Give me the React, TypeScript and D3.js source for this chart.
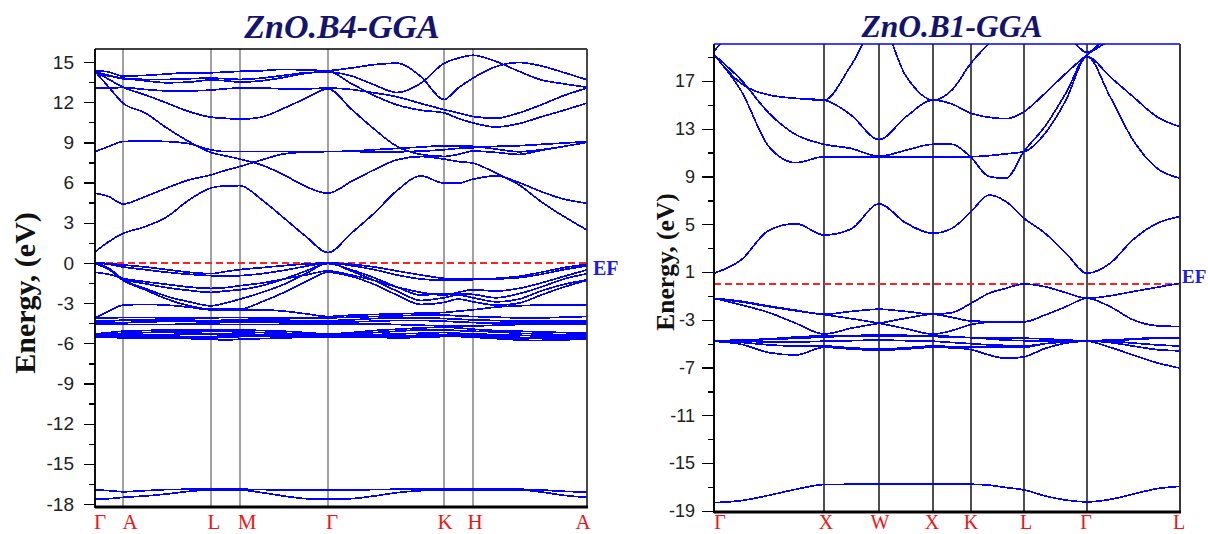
import React, { useEffect, useRef } from "react";
import * as d3 from "d3";

// ================= ZnO B4 (wurtzite) panel data =================
const b4Title = "ZnO.B4-GGA";
const b4KLabels = ["Γ", "A", "L", "M", "Γ", "K", "H", "A"];
const b4KDist = [0, 28, 116, 145, 233, 349, 378, 492];
const b4Grid = [0, 14, 28, 50, 72, 94, 116, 130, 145, 167, 189, 211, 233, 256, 279, 302, 326, 349, 363, 378, 401, 424, 446, 469, 492];
const b4Ticks = [15, 12, 9, 6, 3, 0, -3, -6, -9, -12, -15, -18];
const b4MinorTicks = [13.5, 10.5, 7.5, 4.5, 1.5, -1.5, -4.5, -7.5, -10.5, -13.5, -16.5];

// conduction bands
const b4c1 = [0.82, 1.6, 2.2, 2.7, 3.45, 4.7, 5.6, 5.75, 5.77, 4.7, 3.35, 1.97, 0.77, 2.2, 3.7, 5.4, 6.5, 5.95, 5.95, 6.25, 6.5, 6.0, 5.33, 4.76, 4.46];
const b4c2 = [5.2, 4.95, 4.4, 4.95, 5.6, 6.2, 6.57, 6.9, 7.2, 7.7, 8.14, 8.27, 8.31, 8.31, 8.3, 8.3, 8.35, 8.45, 8.55, 8.6, 8.7, 8.75, 8.85, 8.95, 9.06];
const b4c3 = [8.3, 8.7, 9.06, 9.1, 9.06, 8.9, 8.44, 8.31, 8.31, 8.31, 8.31, 8.31, 8.31, 8.35, 8.45, 8.55, 8.65, 8.75, 8.75, 8.7, 8.5, 8.3, 8.45, 8.7, 9.0];
const b4c4 = [14.3, 13.1, 11.93, 11.2, 10.06, 9.06, 8.24, 8.0, 7.75, 7.3, 6.57, 5.7, 5.2, 6.07, 6.95, 7.7, 7.94, 7.75, 7.57, 7.45, 6.7, 5.83, 4.58, 3.46, 2.46];
const b4c5 = [14.3, 13.7, 13.12, 12.55, 11.93, 11.3, 10.88, 10.8, 10.73, 10.9, 11.55, 12.3, 13.0, 11.5, 10.0, 8.7, 8.1, 7.95, 8.1, 8.35, 8.25, 8.1, 8.4, 8.7, 9.0];
const b4c6 = [13.05, 13.05, 13.1, 12.95, 12.85, 12.85, 12.9, 13.0, 13.05, 13.05, 13.0, 13.0, 13.05, 12.95, 12.7, 12.4, 11.9, 11.45, 11.2, 10.93, 10.8, 11.2, 11.8, 12.5, 13.05];
const b4c7 = [14.2, 13.95, 13.8, 13.6, 13.45, 13.5, 13.65, 13.6, 13.5, 13.6, 13.85, 14.15, 14.3, 13.4, 12.5, 11.8, 11.4, 11.2, 10.8, 10.45, 10.15, 10.4, 10.9, 11.4, 11.93];
const b4c8 = [14.36, 14.25, 13.95, 14.0, 14.1, 14.2, 14.2, 14.25, 14.3, 14.35, 14.45, 14.4, 14.36, 14.55, 14.8, 14.91, 13.9, 12.2, 13.05, 13.8, 14.66, 14.96, 14.71, 14.21, 13.67];
const b4c9 = [14.25, 14.0, 13.75, 13.7, 13.7, 13.75, 13.8, 13.75, 13.7, 13.8, 14.0, 14.2, 14.25, 13.97, 13.3, 12.72, 13.42, 14.9, 15.28, 15.5, 15.04, 14.3, 13.67, 13.37, 13.12];
// O 2p valence bands
const b4v1 = [0, -0.05, -0.15, -0.3, -0.5, -0.7, -0.8, -0.65, -0.5, -0.35, -0.2, -0.08, 0, -0.1, -0.3, -0.6, -0.9, -1.15, -1.2, -1.2, -1.15, -1.0, -0.7, -0.35, -0.1];
const b4v2 = [0, -0.1, -0.3, -0.5, -0.7, -0.85, -0.95, -1.0, -0.95, -0.8, -0.55, -0.25, 0, -0.2, -0.5, -0.9, -1.2, -1.3, -1.3, -1.25, -1.2, -1.1, -0.85, -0.5, -0.22];
const b4v3 = [-0.7, -0.85, -1.15, -1.4, -1.6, -1.8, -1.9, -1.85, -1.7, -1.5, -1.2, -0.9, -0.6, -0.9, -1.3, -1.8, -2.2, -2.4, -2.2, -2.0, -2.1, -1.9, -1.5, -1.0, -0.52];
const b4v4 = [0, -0.4, -1.2, -1.55, -1.85, -2.05, -2.2, -2.1, -2.0, -1.7, -1.2, -0.6, -0.05, -0.5, -1.1, -1.8, -2.4, -2.3, -2.3, -2.35, -2.6, -2.3, -1.8, -1.2, -0.8];
const b4v5 = [0, -0.45, -1.25, -1.9, -2.5, -2.9, -3.2, -3.0, -2.7, -2.2, -1.6, -0.8, 0, -0.6, -1.3, -2.1, -2.8, -2.6, -2.4, -2.6, -2.9, -2.7, -2.1, -1.6, -1.27];
const b4v6 = [-0.05, -0.5, -1.3, -2.0, -2.7, -3.2, -3.45, -3.45, -3.45, -2.9, -2.2, -1.4, -0.7, -1.0, -1.6, -2.4, -3.1, -2.95, -2.7, -2.9, -3.15, -3.0, -2.4, -1.8, -1.3];
const b4v7 = [-4.1, -3.6, -3.15, -3.1, -3.15, -3.3, -3.5, -3.5, -3.5, -3.5, -3.6, -3.8, -4.0, -3.9, -3.85, -3.8, -3.75, -3.7, -3.6, -3.5, -3.3, -3.2, -3.15, -3.15, -3.14];
// Zn 3d bands
const b4d1 = [-4.1, -4.1, -4.08, -4.08, -4.1, -4.12, -4.1, -4.08, -4.08, -4.1, -4.1, -4.1, -4.1, -4.05, -4.0, -3.95, -3.9, -3.9, -3.95, -4.0, -4.05, -4.1, -4.1, -4.05, -4.0];
const b4d2 = [-4.3, -4.3, -4.28, -4.25, -4.25, -4.28, -4.3, -4.28, -4.25, -4.25, -4.28, -4.3, -4.3, -4.25, -4.15, -4.1, -4.1, -4.15, -4.2, -4.25, -4.3, -4.35, -4.35, -4.3, -4.3];
const b4d3 = [-4.4, -4.42, -4.45, -4.4, -4.38, -4.38, -4.4, -4.4, -4.4, -4.4, -4.4, -4.42, -4.42, -4.4, -4.35, -4.3, -4.3, -4.35, -4.4, -4.45, -4.5, -4.5, -4.45, -4.4, -4.4];
const b4d4 = [-4.55, -4.55, -4.58, -4.6, -4.6, -4.55, -4.55, -4.6, -4.6, -4.6, -4.58, -4.55, -4.55, -4.55, -4.55, -4.6, -4.65, -4.7, -4.7, -4.7, -4.65, -4.6, -4.55, -4.55, -4.55];
const b4d5 = [-5.3, -5.2, -5.1, -5.05, -5.0, -5.0, -5.0, -5.0, -5.0, -5.05, -5.1, -5.2, -5.3, -5.2, -5.05, -4.95, -4.85, -4.8, -4.85, -4.95, -5.05, -5.1, -5.15, -5.2, -5.25];
const b4d6 = [-5.35, -5.3, -5.25, -5.2, -5.15, -5.15, -5.12, -5.12, -5.15, -5.2, -5.25, -5.3, -5.35, -5.3, -5.2, -5.1, -5.0, -5.0, -5.05, -5.1, -5.15, -5.25, -5.3, -5.35, -5.35];
const b4d7 = [-5.4, -5.4, -5.4, -5.38, -5.35, -5.3, -5.3, -5.3, -5.3, -5.35, -5.38, -5.4, -5.4, -5.4, -5.35, -5.3, -5.25, -5.2, -5.25, -5.3, -5.35, -5.4, -5.45, -5.45, -5.45];
const b4d8 = [-5.5, -5.5, -5.5, -5.45, -5.45, -5.5, -5.5, -5.45, -5.45, -5.5, -5.5, -5.5, -5.5, -5.5, -5.45, -5.45, -5.4, -5.4, -5.4, -5.45, -5.55, -5.6, -5.6, -5.55, -5.55];
const b4d9 = [-5.55, -5.55, -5.6, -5.6, -5.6, -5.65, -5.7, -5.75, -5.7, -5.65, -5.6, -5.55, -5.55, -5.55, -5.55, -5.6, -5.55, -5.5, -5.5, -5.55, -5.65, -5.75, -5.8, -5.75, -5.65];
const b4d10 = [-5.3, -5.35, -5.45, -5.55, -5.6, -5.6, -5.6, -5.55, -5.5, -5.45, -5.4, -5.35, -5.3, -5.35, -5.45, -5.5, -5.45, -5.35, -5.3, -5.35, -5.45, -5.55, -5.65, -5.7, -5.7];
// O 2s bands
const b4s1 = [-16.95, -17.0, -17.08, -17.0, -16.92, -16.9, -16.9, -16.9, -16.9, -16.92, -16.95, -16.95, -16.95, -16.95, -16.92, -16.9, -16.9, -16.9, -16.9, -16.9, -16.9, -16.9, -16.95, -17.05, -17.1];
const b4s2 = [-17.65, -17.6, -17.5, -17.4, -17.25, -17.05, -16.95, -16.95, -16.95, -17.15, -17.4, -17.6, -17.65, -17.6, -17.4, -17.15, -17.0, -16.95, -16.95, -16.95, -16.95, -16.95, -17.1, -17.35, -17.5];

const b4Bands = [
  b4c1, b4c2, b4c3, b4c4, b4c5, b4c6, b4c7, b4c8, b4c9,
  b4v1, b4v2, b4v3, b4v4, b4v5, b4v6, b4v7,
  b4d1, b4d2, b4d3, b4d4, b4d5, b4d6, b4d7, b4d8, b4d9, b4d10,
  b4s1, b4s2,
];

// ================= ZnO B1 (rocksalt) panel data =================
const b1Title = "ZnO.B1-GGA";
const b1KLabels = ["Γ", "X", "W", "X", "K", "L", "Γ", "L"];
const b1KDist = [0, 110, 165, 219, 257, 310, 373, 466];
const b1Grid = [0, 27, 55, 82, 110, 137, 165, 192, 219, 238, 257, 275, 292, 310, 331, 352, 373, 396, 419, 443, 466];
const b1Ticks = [17, 13, 9, 5, 1, -3, -7, -11, -15, -19];
const b1MinorTicks = [19, 15, 11, 7, 3, -1, -5, -9, -13, -17];

const b1c1 = [0.9, 2.0, 4.5, 5.05, 4.1, 4.6, 6.7, 5.1, 4.25, 4.66, 6.05, 7.45, 6.9, 5.5, 4.25, 2.57, 0.9, 1.73, 3.7, 5.08, 5.64];
const b1c2 = [19.2, 16.2, 11.5, 10.16, 10.66, 10.66, 10.66, 10.66, 10.66, 10.66, 10.66, 10.75, 10.9, 11.08, 12.6, 15.4, 19.05, 15.7, 12.06, 9.7, 8.85];
const b1c3 = [19.2, 17.1, 14.3, 12.5, 11.7, 11.35, 10.7, 11.2, 11.7, 11.7, 10.6, 9.0, 8.85, 11.1, 13.2, 16.0, 19.05, 17.36, 15.69, 14.0, 13.17];
const b1c4 = [19.2, 16.8, 15.83, 15.55, 15.4, 14.15, 12.1, 14.0, 15.4, 15.07, 14.3, 13.96, 13.85, 14.43, 15.97, 17.65, 19.18, 20.4, 21.5, 22.0, 22.5];
const b1c5 = [19.2, 16.8, 15.83, 15.55, 15.4, 18.3, 22.0, 17.4, 15.4, 16.25, 18.5, 20.15, 21.5, 22.0, 22.0, 21.0, 19.4, 21.0, 22.0, 22.5, 23.0];
const b1c6 = [19.5, 22.0, 24.0, 24.0, 24.0, 24.0, 24.0, 24.0, 24.0, 24.0, 24.0, 24.0, 24.0, 24.0, 24.0, 24.0, 24.0, 24.0, 24.0, 24.0, 24.0];
const b1v1 = [-1.2, -1.45, -1.85, -2.2, -2.54, -2.3, -2.12, -2.3, -2.54, -2.4, -1.62, -0.78, -0.36, 0.0, -0.23, -0.73, -1.2, -0.99, -0.64, -0.28, 0.06];
const b1v2 = [-1.2, -1.75, -2.4, -3.3, -4.19, -3.71, -3.29, -2.87, -2.54, -2.8, -3.1, -3.15, -3.17, -3.17, -2.6, -1.9, -1.2, -1.9, -3.0, -3.5, -3.57];
const b1v3 = [-1.2, -1.5, -1.9, -2.25, -2.56, -2.9, -3.29, -3.75, -4.2, -3.9, -3.4, -3.2, -3.17, -3.17, -2.6, -1.9, -1.2, -1.9, -3.0, -3.5, -3.57];
const b1d1 = [-4.75, -4.7, -4.6, -4.45, -4.35, -4.35, -4.35, -4.35, -4.35, -4.4, -4.5, -4.55, -4.55, -4.55, -4.6, -4.7, -4.75, -4.7, -4.6, -4.5, -4.5];
const b1d2 = [-4.75, -4.8, -4.85, -4.85, -4.8, -4.75, -4.7, -4.75, -4.8, -4.9, -5.0, -5.1, -5.15, -5.2, -5.0, -4.85, -4.75, -4.8, -4.95, -5.1, -5.2];
const b1d3 = [-4.78, -4.9, -5.1, -5.2, -5.2, -5.35, -5.45, -5.35, -5.2, -5.25, -5.3, -5.3, -5.3, -5.3, -5.0, -4.85, -4.78, -4.9, -5.2, -5.5, -5.6];
const b1d4 = [-4.8, -5.05, -5.75, -5.95, -5.3, -5.45, -5.55, -5.45, -5.3, -5.35, -5.5, -5.95, -6.23, -6.1, -5.4, -4.95, -4.8, -5.3, -5.95, -6.6, -7.05];
const b1d5 = [-4.75, -4.72, -4.65, -4.55, -4.45, -4.35, -4.25, -4.3, -4.4, -4.45, -4.5, -4.6, -4.7, -4.75, -4.75, -4.75, -4.75, -4.72, -4.65, -4.55, -4.5];
const b1s1 = [-18.32, -18.15, -17.7, -17.2, -16.8, -16.78, -16.78, -16.78, -16.78, -16.78, -16.78, -16.85, -17.05, -17.25, -17.75, -18.1, -18.25, -18.05, -17.6, -17.15, -16.95];

const b1Bands = [b1c1, b1c2, b1c3, b1c4, b1c5, b1c6, b1v1, b1v2, b1v3, b1d1, b1d2, b1d3, b1d4, b1d5, b1s1];

const fermiLevel = 0;

type Spec = {
  id: string;
  title: string;
  titleX: number;
  titleY: number;
  titleSize: number;
  labels: string[];
  kDist: number[];
  grid: number[];
  bands: number[][];
  ticks: number[];
  minor: number[];
  left: number;
  right: number;
  top: number;
  bottom: number;
  yDomain: [number, number];
  majorLen: number;
  minorLen: number;
  pad: number;
  tickFont: number;
  symColor: string;
  symWidth: number;
  topColor: string;
  yLabelX: number;
  yLabelY: number;
  yLabelSize: number;
  efSize: number;
  efDx: number;
  efDy: number;
  kFont: number;
  kDx: number[];
};

const leftSpec: Spec = {
  id: "b4",
  title: b4Title,
  titleX: 342,
  titleY: 38,
  titleSize: 34,
  labels: b4KLabels,
  kDist: b4KDist,
  grid: b4Grid,
  bands: b4Bands,
  ticks: b4Ticks,
  minor: b4MinorTicks,
  left: 95,
  right: 587,
  top: 49,
  bottom: 507,
  yDomain: [-18.22, 15.97],
  majorLen: 11,
  minorLen: 6,
  pad: 10,
  tickFont: 19,
  symColor: "#8a8a8a",
  symWidth: 1.6,
  topColor: "#000",
  yLabelX: 35,
  yLabelY: 293,
  yLabelSize: 30,
  efSize: 20,
  efDx: 6,
  efDy: 12,
  kFont: 21,
  kDx: [5, 7, 3, 7, 4, 1, 2, -4],
};

const rightSpec: Spec = {
  id: "b1",
  title: b1Title,
  titleX: 952,
  titleY: 37,
  titleSize: 31.5,
  labels: b1KLabels,
  kDist: b1KDist,
  grid: b1Grid,
  bands: b1Bands,
  ticks: b1Ticks,
  minor: b1MinorTicks,
  left: 714,
  right: 1180,
  top: 44,
  bottom: 512,
  yDomain: [-19.1, 20.1],
  majorLen: 12,
  minorLen: 6,
  pad: 7,
  tickFont: 18,
  symColor: "#222",
  symWidth: 1.6,
  topColor: "#0000ff",
  yLabelX: 674,
  yLabelY: 262,
  yLabelSize: 25.5,
  efSize: 19,
  efDx: 2,
  efDy: -1,
  kFont: 20,
  kDx: [6, 2, 1, -1, 0, 2, -1, -1],
};

function Panel({ spec }: { spec: Spec }) {
  const axisRef = useRef<SVGGElement>(null);
  const x = d3.scaleLinear().domain([0, spec.kDist[spec.kDist.length - 1]]).range([spec.left, spec.right]);
  const y = d3.scaleLinear().domain(spec.yDomain).range([spec.bottom, spec.top]);
  const line = d3
    .line<number>()
    .x((_, i) => x(spec.grid[i]))
    .y((d) => y(d))
    .curve(d3.curveMonotoneX);

  useEffect(() => {
    const g = d3.select(axisRef.current);
    g.selectAll("*").remove();
    const minorAxis = d3.axisLeft(y).tickValues(spec.minor).tickSize(spec.minorLen).tickFormat(() => "");
    const majorAxis = d3
      .axisLeft(y)
      .tickValues(spec.ticks)
      .tickSize(spec.majorLen)
      .tickPadding(spec.pad)
      .tickFormat((d) => String(d));
    g.append("g").call(minorAxis);
    g.append("g").call(majorAxis);
    g.selectAll(".domain").remove();
    g.selectAll("line").attr("stroke", "#000").attr("stroke-width", 1.3).attr("shape-rendering", "crispEdges");
    g.selectAll("text")
      .attr("font-family", "'Liberation Sans', Arial, sans-serif")
      .attr("font-size", spec.tickFont)
      .attr("fill", "#222");
  }, []);

  const yEF = y(fermiLevel);
  return (
    <g>
      <defs>
        <clipPath id={`clip-${spec.id}`}>
          <rect x={spec.left} y={spec.top} width={spec.right - spec.left} height={spec.bottom - spec.top} />
        </clipPath>
      </defs>
      <text
        x={spec.titleX}
        y={spec.titleY}
        textAnchor="middle"
        fontFamily="'Liberation Serif', 'Times New Roman', serif"
        fontWeight="bold"
        fontStyle="italic"
        fontSize={spec.titleSize}
        fill="#14146e"
      >
        {spec.title}
      </text>
      {spec.kDist.map((k, i) => (
        <line
          key={`sym${i}`}
          x1={x(k)}
          x2={x(k)}
          y1={spec.top}
          y2={spec.bottom}
          stroke={spec.symColor}
          strokeWidth={spec.symWidth}
        />
      ))}
      <line
        x1={spec.left}
        x2={spec.right}
        y1={yEF}
        y2={yEF}
        stroke="#ff2020"
        strokeWidth={1.6}
        strokeDasharray="7 4"
        shapeRendering="crispEdges"
      />
      <g clipPath={`url(#clip-${spec.id})`}>
        {spec.bands.map((b, i) => (
          <path
            key={`band${i}`}
            d={line(b) || ""}
            fill="none"
            stroke="#0000ff"
            strokeWidth={1.7}
            shapeRendering="crispEdges"
          />
        ))}
      </g>
      {/* frame */}
      <line x1={spec.left} x2={spec.right} y1={spec.top} y2={spec.top} stroke={spec.topColor} strokeWidth={1.5} />
      <line x1={spec.right} x2={spec.right} y1={spec.top} y2={spec.bottom} stroke="#333" strokeWidth={1.6} />
      <line x1={spec.left} x2={spec.left} y1={spec.top} y2={spec.bottom + 1} stroke="#000" strokeWidth={1.8} />
      <line x1={spec.left} x2={spec.right + 1} y1={spec.bottom} y2={spec.bottom} stroke="#000" strokeWidth={3.2} />
      <g ref={axisRef} transform={`translate(${spec.left},0)`} />
      {spec.labels.map((lab, i) => (
        <text
          key={`klab${i}`}
          x={x(spec.kDist[i]) + spec.kDx[i]}
          y={529}
          textAnchor="middle"
          fontFamily="'Liberation Serif', 'Times New Roman', serif"
          fontSize={spec.kFont}
          fill="#f01414"
        >
          {lab}
        </text>
      ))}
      <text
        x={spec.right + spec.efDx}
        y={yEF + spec.efDy}
        fontFamily="'Liberation Serif', 'Times New Roman', serif"
        fontWeight="bold"
        fontSize={spec.efSize}
        fill="#1c1ce0"
      >
        EF
      </text>
      <text
        transform={`translate(${spec.yLabelX},${spec.yLabelY}) rotate(-90)`}
        textAnchor="middle"
        fontFamily="'Liberation Serif', 'Times New Roman', serif"
        fontWeight="bold"
        fontSize={spec.yLabelSize}
        fill="#111"
      >
        Energy, (eV)
      </text>
    </g>
  );
}

export default function App() {
  return (
    <div style={{ position: "absolute", left: 0, top: 0, width: 1208, height: 534, background: "#fff" }}>
      <svg width={1208} height={534} style={{ display: "block" }}>
        <rect x={0} y={0} width={1208} height={534} fill="#fff" />
        <Panel spec={leftSpec} />
        <Panel spec={rightSpec} />
      </svg>
    </div>
  );
}
